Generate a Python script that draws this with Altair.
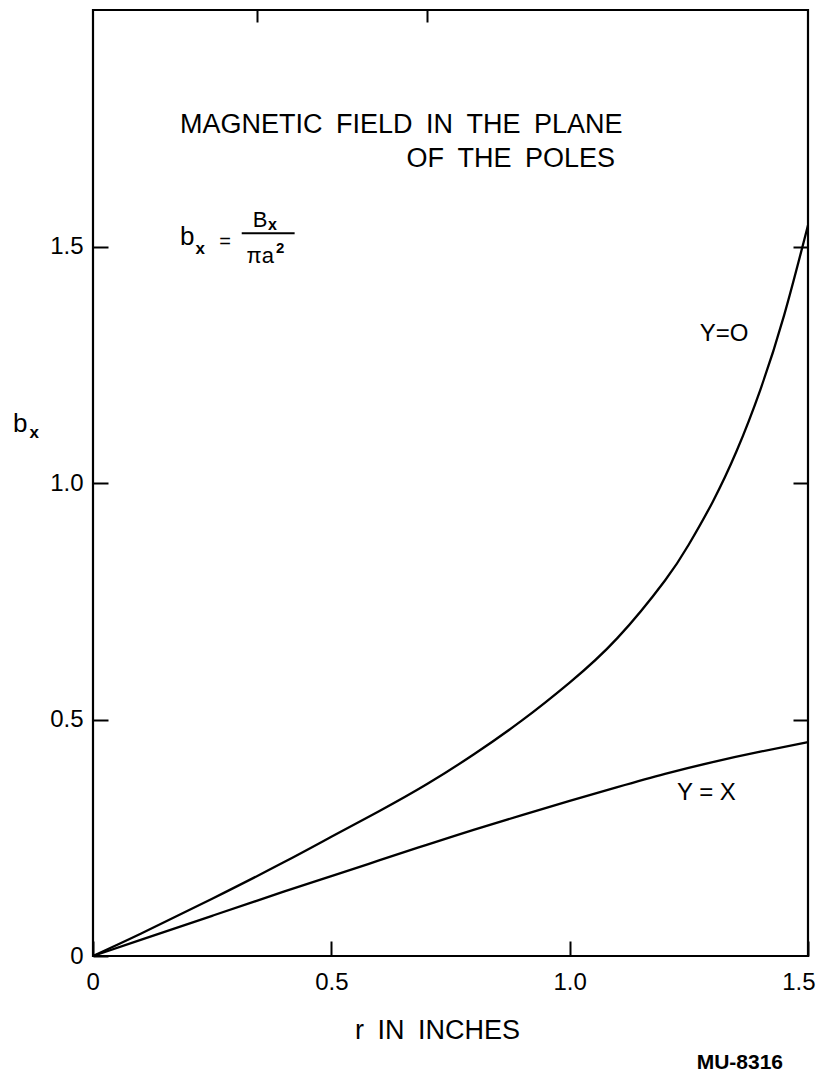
import altair as alt
import pandas as pd

# Curve readings (r in inches, b_x)
r_y0 = [0.0, 0.1, 0.25, 0.4, 0.5, 0.6, 0.7, 0.8, 0.9, 1.0, 1.1, 1.2, 1.25, 1.3, 1.35, 1.4, 1.45, 1.5]
b_y0 = [0.0, 0.047, 0.121, 0.198, 0.252, 0.306, 0.363, 0.427, 0.498, 0.578, 0.672, 0.794, 0.870, 0.960, 1.067, 1.197, 1.355, 1.545]
r_yx = [0.0, 0.1, 0.25, 0.4, 0.5, 0.6, 0.7, 0.8, 0.9, 1.0, 1.1, 1.2, 1.3, 1.4, 1.5]
b_yx = [0.0, 0.034, 0.085, 0.136, 0.169, 0.202, 0.235, 0.267, 0.298, 0.328, 0.357, 0.385, 0.41, 0.432, 0.452]

tick_values = [0, 0.5, 1.0, 1.5]
top_ticks = [0.345, 0.70]

FONT = "Liberation Sans"
SP = "\u2002"

df = pd.concat([
    pd.DataFrame({"r": r_y0, "b": b_y0, "series": "Y=0"}),
    pd.DataFrame({"r": r_yx, "b": b_yx, "series": "Y=X"}),
])

xs = alt.Scale(domain=[0, 1.5], nice=False, zero=False)
ys = alt.Scale(domain=[0, 2.0], nice=False, zero=False)
label_expr = "datum.value == 0 ? '0' : format(datum.value, '.1f')"

curves = alt.Chart(df).mark_line(color="black", strokeWidth=2.3, interpolate="natural").encode(
    x=alt.X("r:Q", scale=xs, axis=alt.Axis(
        orient="bottom", values=tick_values, labelExpr=label_expr, offset=-15, tickSize=15,
        tickWidth=2, tickColor="black", domain=False, grid=False, labelFontSize=24,
        labelFont=FONT, labelColor="black", labelPadding=14, labelFlush=True, labelFlushOffset=7,
        title=f"r{SP}IN{SP}INCHES", titleFont=FONT, titleFontSize=27, titleFontWeight="normal",
        titleX=344, titleY=89, titleAlign="center", titleBaseline="middle", titleColor="black")),
    y=alt.Y("b:Q", scale=ys, axis=alt.Axis(
        orient="left", values=tick_values, labelExpr=label_expr, offset=-15, tickSize=15,
        tickWidth=2, tickColor="black", domain=False, grid=False, labelFontSize=24,
        labelFont=FONT, labelColor="black", labelPadding=10, labelFlush=False, title=None)),
    detail="series:N",
)

frame_axes = alt.Chart(df).mark_line(opacity=0).encode(
    x=alt.X("r:Q", scale=xs, axis=alt.Axis(
        orient="top", values=top_ticks, labels=False, offset=-12, tickSize=12, tickWidth=2,
        tickColor="black", domain=False, grid=False, title=None)),
    y=alt.Y("b:Q", scale=ys, axis=alt.Axis(
        orient="right", values=[0.5, 1.0, 1.5], labels=False, offset=-15, tickSize=15,
        tickWidth=2, tickColor="black", domain=False, grid=False, title=None)),
    detail="series:N",
)


def note(text, x, y, size, align="left", weight="normal"):
    d = pd.DataFrame({"x": [x], "y": [y], "t": [text]})
    return alt.Chart(d).mark_text(
        align=align, baseline="middle", fontSize=size, font=FONT, fontWeight=weight,
        color="black"
    ).encode(
        x=alt.X("x:Q", scale=xs, axis=None),
        y=alt.Y("y:Q", scale=ys, axis=None),
        text="t:N",
    )


title1 = note(f"MAGNETIC{SP}FIELD{SP}IN{SP}THE{SP}PLANE", 0.1825, 1.757, 27)
title2 = note(f"OF{SP}THE{SP}POLES", 1.095, 1.685, 27, align="right")
lab_y0 = note("Y=O", 1.273, 1.315, 24)
lab_yx = note("Y = X", 1.225, 0.345, 24)

# equation b_x = B_x / (pi a^2)
eq_b = note("b", 0.1825, 1.52, 26)
eq_bx = note("x", 0.215, 1.495, 17, weight="bold")
eq_eq = note("=", 0.265, 1.51, 20)
eq_B = note("B", 0.335, 1.555, 22)
eq_Bx = note("x", 0.367, 1.545, 16, weight="bold")
eq_pia = note("πa", 0.322, 1.48, 22)
eq_2 = note("2", 0.384, 1.497, 15, weight="bold")
frac = alt.Chart(pd.DataFrame({"x": [0.312], "x2": [0.423], "y": [1.528]})).mark_rule(
    color="black", strokeWidth=1.8).encode(
    x=alt.X("x:Q", scale=xs, axis=None), x2="x2:Q", y=alt.Y("y:Q", scale=ys, axis=None))

# y axis title b_x
yt_b = note("b", -0.168, 1.125, 26)
yt_x = note("x", -0.133, 1.105, 17, weight="bold")

mu = note("MU-8316", 1.357, -0.226, 21, align="center", weight="bold")

chart = alt.layer(
    curves, frame_axes, title1, title2, lab_y0, lab_yx,
    eq_b, eq_bx, eq_eq, eq_B, eq_Bx, eq_pia, eq_2, frac, yt_b, yt_x, mu
).resolve_axis(x="independent", y="independent").properties(
    width=715, height=946,
    autosize=alt.AutoSizeParams(type="none"),
    padding={"left": 93, "top": 10, "right": 8, "bottom": 122},
    background="white",
).configure_view(stroke="black", strokeWidth=2.2)

chart.save("out.html", embed_options={"renderer": "svg", "actions": False})
